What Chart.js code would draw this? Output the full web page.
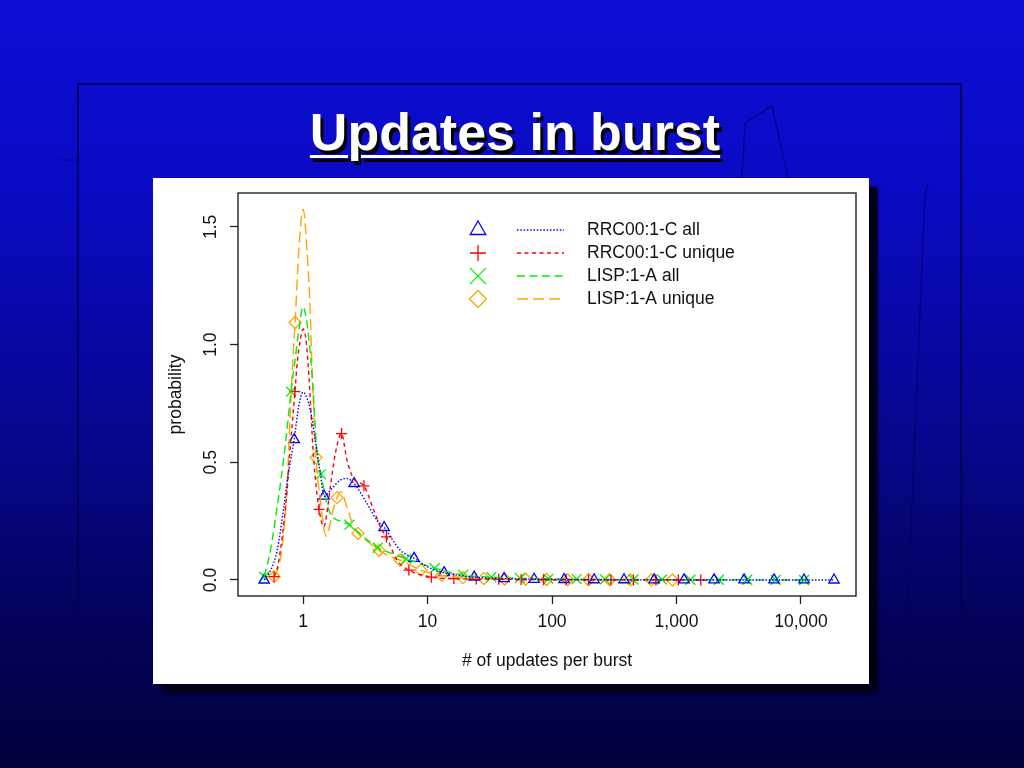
<!DOCTYPE html>
<html>
<head>
<meta charset="utf-8">
<script src="https://cdn.jsdelivr.net/npm/chart.js@4.4.0/dist/chart.umd.min.js"></script>
<style>
html, body { margin: 0; padding: 0; width: 1024px; height: 768px; overflow: hidden; }
body {
    position: relative;
    font-family: "Liberation Sans", Arial, sans-serif;
    background: linear-gradient(to bottom, #0e0ed6 0%, #0a0ac4 25%, #070792 55%, #03035c 80%, #00003c 100%);
}
#frame { position: absolute; left: 77px; top: 83px; width: 881px; height: 583px; border: 2px solid rgba(2, 2, 80, 0.85); }
#deco { position: absolute; left: 0; top: 0; }
#title {
    position: absolute; left: 0; width: 1030px; top: 106px;
    text-align: center; color: #fff; font-weight: bold; font-size: 52px; line-height: 52px;
    text-decoration: underline; text-decoration-thickness: 3px; text-underline-offset: 5px;
    text-shadow: 3px 4px 0 #000;
}
#panel { position: absolute; left: 153px; top: 178px; width: 716px; height: 506px; background: #fff; box-shadow: 9px 9px 2px #000018; }
</style>
</head>
<body>
<div id="frame"></div>
<svg id="deco" width="1024" height="768">
  <g fill="none" stroke="rgba(0,0,90,0.6)" stroke-width="1.2">
    <polyline points="742,178 745,123 772,106 788,178" />
    <polyline points="928,183 925,195 905,668" />
    <line x1="60" y1="160" x2="77" y2="160" />
    <line x1="60" y1="645" x2="153" y2="645" />
    <line x1="108" y1="645" x2="108" y2="683" />
  </g>
</svg>
<div id="title">Updates in burst</div>
<div id="panel"><canvas id="graph-canvas" width="716" height="506"></canvas></div>
<script>
const ctx = document.getElementById('graph-canvas');

// axis ticks
const xTicks = [1, 10, 100, 1000, 10000];
const yTicks = [0, 0.5, 1.0, 1.5];

// RRC00:1-C all  (density curve + marker points)
const rrcAllX = [0.487, 0.547, 0.62, 0.70, 0.76, 0.848, 0.92, 1.0, 1.07, 1.145, 1.255, 1.377, 1.476, 1.655, 1.99, 2.25, 2.572, 3.26, 3.92, 4.479, 6.03, 7.8, 10.5, 13.59, 23.7, 41.2, 125, 661, 3491, 18450];
const rrcAllY = [0.0, 0.04, 0.127, 0.31, 0.45, 0.596, 0.734, 0.798, 0.775, 0.72, 0.593, 0.452, 0.356, 0.381, 0.424, 0.431, 0.41, 0.325, 0.254, 0.223, 0.127, 0.092, 0.05, 0.031, 0.012, 0.006, 0.002, 0.0005, 0.0002, 0.0];
const rrcAllMarkX = [0.487, 0.848, 1.476, 2.572, 4.479, 7.8, 13.59, 23.7, 41.2, 71.8, 125, 218, 379, 661, 1151, 2005, 3491, 6081, 10590, 18450];
const rrcAllMarkY = [0.0, 0.596, 0.356, 0.41, 0.223, 0.092, 0.031, 0.012, 0.006, 0.003, 0.002, 0.001, 0.001, 0.0005, 0.0005, 0.0003, 0.0002, 0.0002, 0.0001, 0.0];

// RRC00:1-C unique
const rrcUniqX = [0.585, 0.62, 0.658, 0.70, 0.744, 0.78, 0.86, 0.90, 0.95, 1.0, 1.05, 1.10, 1.15, 1.2, 1.25, 1.344, 1.47, 1.55, 1.66, 1.82, 2.036, 2.25, 2.55, 3.085, 3.69, 4.3, 4.674, 5.67, 7.08, 10.73, 16.26, 37.3, 129.8, 451, 1569];
const rrcUniqY = [0.014, 0.05, 0.127, 0.24, 0.38, 0.53, 0.80, 0.93, 1.02, 1.066, 1.03, 0.91, 0.74, 0.56, 0.44, 0.30, 0.226, 0.28, 0.40, 0.54, 0.622, 0.51, 0.43, 0.40, 0.297, 0.212, 0.183, 0.085, 0.042, 0.012, 0.006, 0.003, 0.001, 0.0005, 0.0];
const rrcUniqMarkX = [0.585, 0.86, 1.344, 2.036, 3.085, 4.674, 7.08, 10.73, 16.26, 24.6, 37.3, 56.5, 85.6, 129.8, 196.6, 297.8, 451, 683, 1036, 1569];
const rrcUniqMarkY = [0.014, 0.80, 0.30, 0.622, 0.40, 0.183, 0.042, 0.012, 0.006, 0.004, 0.003, 0.002, 0.001, 0.001, 0.001, 0.0005, 0.0005, 0.0003, 0.0002, 0.0];

// LISP:1-A all
const lispAllX = [0.487, 0.547, 0.619, 0.70, 0.75, 0.80, 0.86, 0.924, 1.0, 1.06, 1.11, 1.18, 1.25, 1.30, 1.393, 1.5, 1.56, 1.71, 2.0, 2.356, 3.06, 3.985, 5.33, 6.74, 8.2, 11.41, 19.29, 32.6, 93.4, 452, 2189, 10600];
const lispAllY = [0.014, 0.127, 0.31, 0.52, 0.66, 0.80, 0.93, 1.06, 1.161, 1.11, 1.03, 0.87, 0.66, 0.53, 0.45, 0.36, 0.32, 0.27, 0.25, 0.235, 0.183, 0.137, 0.11, 0.09, 0.075, 0.05, 0.022, 0.012, 0.005, 0.002, 0.001, 0.0];
const lispAllMarkX = [0.487, 0.80, 1.393, 2.356, 3.985, 6.74, 11.41, 19.29, 32.6, 55.2, 93.4, 158, 267, 452, 765, 1294, 2189, 3703, 6264, 10600];
const lispAllMarkY = [0.014, 0.80, 0.45, 0.235, 0.137, 0.09, 0.05, 0.022, 0.012, 0.008, 0.005, 0.004, 0.003, 0.002, 0.002, 0.001, 0.001, 0.001, 0.0005, 0.0];

// LISP:1-A unique
const lispUniqX = [0.585, 0.64, 0.679, 0.744, 0.79, 0.816, 0.863, 0.924, 1.0, 1.077, 1.145, 1.18, 1.271, 1.377, 1.45, 1.53, 1.62, 1.71, 1.874, 2.02, 2.25, 2.55, 2.761, 3.46, 4.07, 5.0, 6.0, 8.84, 13.02, 28.3, 90.5, 289.7, 927];
const lispUniqY = [0.014, 0.06, 0.141, 0.40, 0.72, 0.876, 1.094, 1.398, 1.575, 1.398, 1.116, 0.904, 0.52, 0.339, 0.24, 0.186, 0.22, 0.28, 0.35, 0.374, 0.31, 0.226, 0.198, 0.155, 0.126, 0.099, 0.085, 0.042, 0.02, 0.006, 0.002, 0.001, 0.0];
const lispUniqMarkX = [0.585, 0.863, 1.271, 1.874, 2.761, 4.07, 6.0, 8.84, 13.02, 19.19, 28.3, 41.7, 61.4, 90.5, 133.4, 196.6, 289.7, 427, 629, 927];
const lispUniqMarkY = [0.014, 1.094, 0.52, 0.35, 0.198, 0.126, 0.085, 0.042, 0.02, 0.01, 0.006, 0.004, 0.003, 0.002, 0.001, 0.001, 0.001, 0.0005, 0.0003, 0.0];

const seriesNames = ['RRC00:1-C all', 'RRC00:1-C unique', 'LISP:1-A all', 'LISP:1-A unique'];
const seriesColors = ['#0000ff', '#ff0000', '#00ee00', '#ffa500'];
const seriesDash = [[1.5, 1.8], [4, 3.5], [8, 4.5], [11, 5]];
const seriesMarks = ['triangle', 'cross', 'crossRot', 'rectRot'];
const markRadius = [6, 5.5, 7, 6];
const legendRadius = [9, 8, 11.5, 8.5];

const FONT = '"Liberation Sans", Arial, sans-serif';

function toPts(xs, ys)
{
    return xs.map((x, i) => ({ x: x, y: ys[i] }));
}

function lineSet(i, xs, ys)
{
    return {
        data: toPts(xs, ys),
        borderColor: seriesColors[i],
        borderWidth: 1.4,
        borderDash: seriesDash[i],
        pointRadius: 0,
        fill: false,
        cubicInterpolationMode: 'monotone'
    };
}

function markSet(i, xs, ys)
{
    return {
        data: toPts(xs, ys),
        showLine: false,
        pointStyle: seriesMarks[i],
        pointRadius: markRadius[i],
        pointBorderColor: seriesColors[i],
        pointBackgroundColor: 'rgba(0,0,0,0)',
        pointBorderWidth: 1.3
    };
}

// frame, rotated y labels, axis titles and legend in R style
const rStyle = {
    id: 'rStyle',
    afterDraw(chart)
    {
        const c = chart.ctx;
        const a = chart.chartArea;
        const ys = chart.scales.y;
        c.save();
        c.strokeStyle = '#222';
        c.lineWidth = 1.4;
        c.strokeRect(a.left, a.top, a.right - a.left, a.bottom - a.top);

        c.fillStyle = '#111';
        c.font = '17.5px ' + FONT;
        c.textAlign = 'center';
        c.textBaseline = 'middle';
        yTicks.forEach(v => {
            c.save();
            c.translate(58, ys.getPixelForValue(v));
            c.rotate(-Math.PI / 2);
            c.fillText(v.toFixed(1), 0, 0);
            c.restore();
        });

        c.save();
        c.translate(23, (a.top + a.bottom) / 2);
        c.rotate(-Math.PI / 2);
        c.fillText('probability', 0, 0);
        c.restore();
        c.fillText('# of updates per burst', (a.left + a.right) / 2, 483);

        // legend
        const rowY = [52, 75, 98, 121];
        for (let i = 0; i < seriesNames.length; i++)
        {
            const y = rowY[i];
            c.strokeStyle = seriesColors[i];
            c.fillStyle = 'rgba(0,0,0,0)';
            c.lineWidth = 1.3;
            c.setLineDash([]);
            Chart.helpers.drawPoint(c, { pointStyle: seriesMarks[i], rotation: 0, radius: legendRadius[i], borderWidth: 1.3 }, 325, y);
            c.setLineDash(seriesDash[i]);
            c.beginPath();
            c.moveTo(364, y);
            c.lineTo(411, y);
            c.stroke();
            c.setLineDash([]);
            c.fillStyle = '#111';
            c.textAlign = 'left';
            c.fillText(seriesNames[i], 434, y);
        }
        c.restore();
    }
};

const axisGrid = { drawOnChartArea: false, drawTicks: true, tickLength: 8, tickColor: '#222', tickWidth: 1.3 };

var chart = new Chart(ctx,
    {
    type: 'line',
    data:
    {
        datasets:
        [
            lineSet(0, rrcAllX, rrcAllY),
            lineSet(1, rrcUniqX, rrcUniqY),
            lineSet(2, lispAllX, lispAllY),
            lineSet(3, lispUniqX, lispUniqY),
            markSet(0, rrcAllMarkX, rrcAllMarkY),
            markSet(1, rrcUniqMarkX, rrcUniqMarkY),
            markSet(2, lispAllMarkX, lispAllMarkY),
            markSet(3, lispUniqMarkX, lispUniqMarkY)
        ]
    },
    options:
    {
        responsive: false,
        animation: false,
        events: [],
        layout: { padding: { top: 15, right: 13, left: 0, bottom: 0 } },
        plugins:
        {
            legend: { display: false },
            tooltip: { enabled: false }
        },
        scales:
        {
            x:
            {
                type: 'logarithmic',
                min: 0.31,
                max: 27700,
                afterBuildTicks: s => { s.ticks = xTicks.map(v => ({ value: v })); },
                afterFit: s => { s.height = 88; },
                grid: axisGrid,
                border: { display: false },
                ticks:
                {
                    color: '#111',
                    font: { size: 17.5, family: FONT },
                    padding: 8,
                    maxRotation: 0,
                    autoSkip: false,
                    callback: v => Number(v).toLocaleString('en-US')
                }
            },
            y:
            {
                type: 'linear',
                min: -0.068,
                max: 1.644,
                afterBuildTicks: s => { s.ticks = yTicks.map(v => ({ value: v })); },
                afterFit: s => { s.width = 85; },
                grid: axisGrid,
                border: { display: false },
                ticks: { display: false }
            }
        }
    },
    plugins: [rStyle]
});
</script>
</body>
</html>
